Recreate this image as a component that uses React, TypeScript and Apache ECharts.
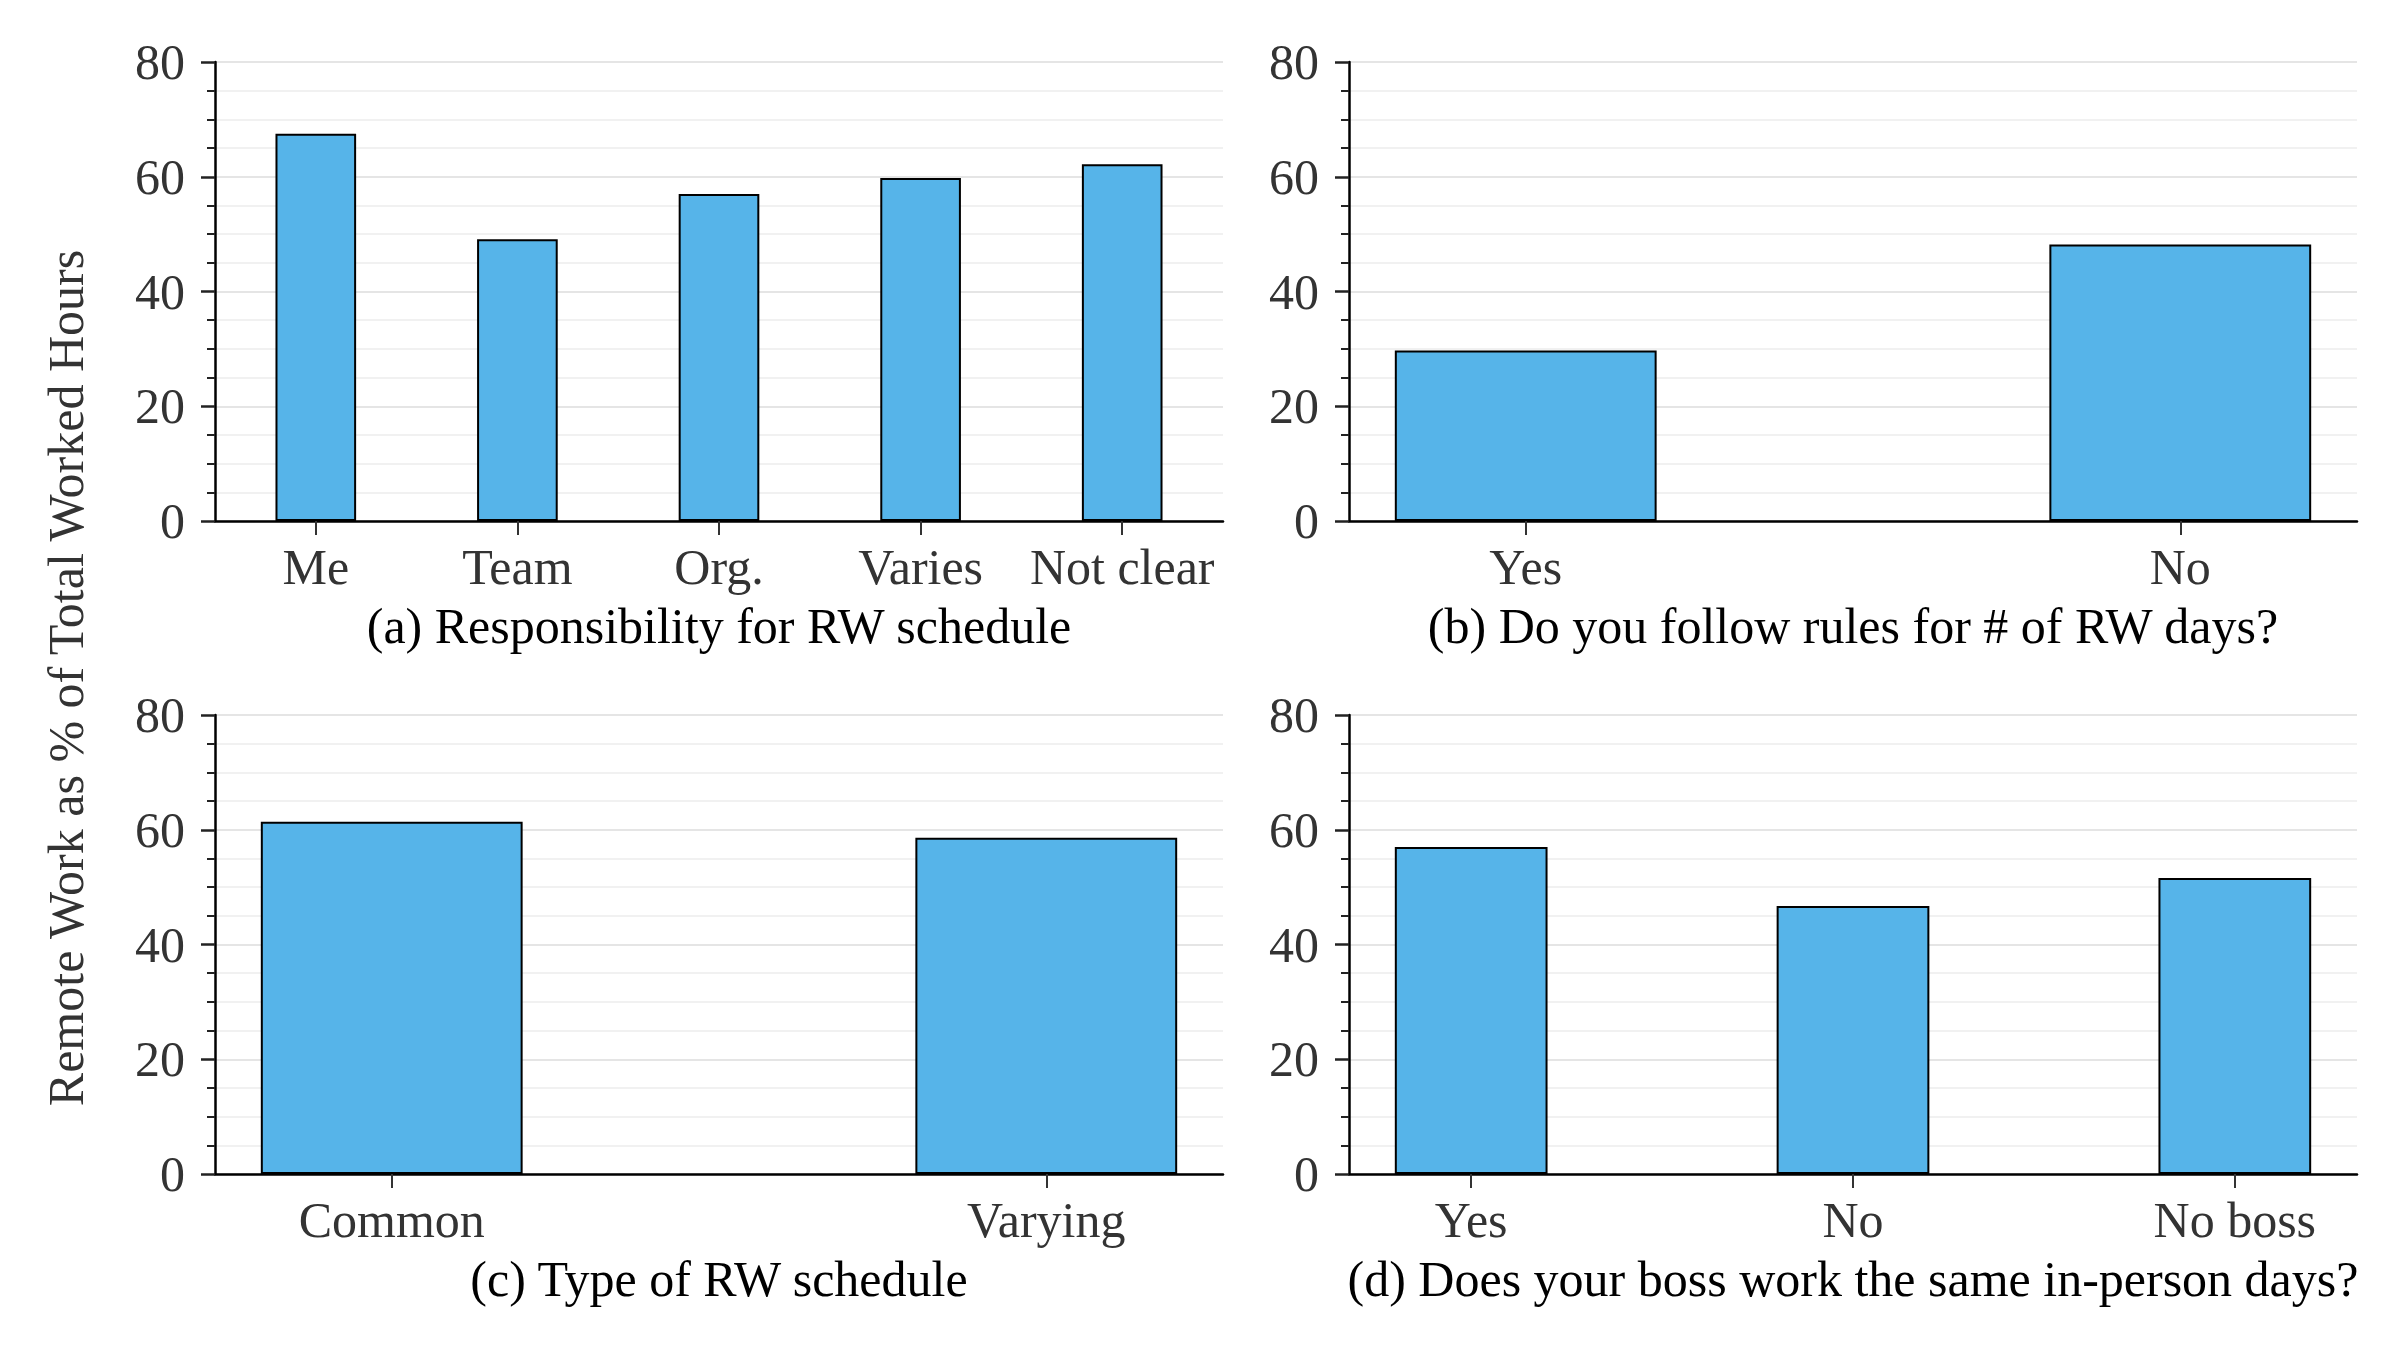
import React, { useEffect, useRef } from "react";
import * as echarts from "echarts";

const catsA = ["Me", "Team", "Org.", "Varies", "Not clear"];
const valsA = [67.5, 49.1, 57.0, 59.8, 62.2];
const catsB = ["Yes", "No"];
const valsB = [29.7, 48.2];
const catsC = ["Common", "Varying"];
const valsC = [61.4, 58.6];
const catsD = ["Yes", "No", "No boss"];
const valsD = [57.0, 46.7, 51.6];
const subtitles = [
  "(a) Responsibility for RW schedule",
  "(b) Do you follow rules for # of RW days?",
  "(c) Type of RW schedule",
  "(d) Does your boss work the same in-person days?",
];
const yTitle = "Remote Work as % of Total Worked Hours";
const yMin = 0;
const yMax = 80;
const yStep = 20;

const FONT = "Liberation Serif";
const FS = 50;

export default function App() {
  const ref = useRef<HTMLDivElement>(null);
  useEffect(() => {
    if (!ref.current) return;
    const chart = echarts.init(ref.current, undefined, { renderer: "svg" });
    const panels = [
      { cats: catsA, vals: valsA, xr: [-0.5, 4.5], left: 215, top: 62 },
      { cats: catsB, vals: valsB, xr: [-0.27, 1.27], left: 1349, top: 62 },
      { cats: catsC, vals: valsC, xr: [-0.27, 1.27], left: 215, top: 715 },
      { cats: catsD, vals: valsD, xr: [-0.32, 2.32], left: 1349, top: 715 },
    ];
    const W = 1008;
    const H = 459;
    const option: any = {
      animation: false,
      backgroundColor: "#ffffff",
      grid: panels.map((p) => ({ left: p.left, top: p.top, width: W, height: H, containLabel: false })),
      xAxis: panels.map((p, i) => {
        const idx = p.cats.map((_, k) => k);
        return {
          type: "value",
          gridIndex: i,
          min: p.xr[0],
          max: p.xr[1],
          axisLine: { show: true, onZero: false, lineStyle: { color: "#000", width: 2.5 } },
          axisTick: { show: true, customValues: idx, length: 14, lineStyle: { color: "#333", width: 2 } },
          axisLabel: {
            show: true,
            customValues: idx,
            formatter: (v: number) => p.cats[Math.round(v)] ?? "",
            fontFamily: FONT,
            fontSize: FS,
            color: "#333",
            margin: 21,
          },
          splitLine: { show: false },
        };
      }),
      yAxis: panels.map((p, i) => ({
        type: "value",
        gridIndex: i,
        min: yMin,
        max: yMax,
        interval: yStep,
        axisLine: { show: true, onZero: false, lineStyle: { color: "#000", width: 2.5 } },
        axisTick: { show: true, length: 14, lineStyle: { color: "#222", width: 2.5 } },
        minorTick: { show: true, splitNumber: 4, length: 8, lineStyle: { color: "#222", width: 2 } },
        splitLine: { show: true, lineStyle: { color: "#dcdcdc", width: 1.5 } },
        minorSplitLine: { show: true, lineStyle: { color: "#ededed", width: 1.5 } },
        axisLabel: { fontFamily: FONT, fontSize: FS, color: "#333", margin: 30 },
      })),
      series: panels.map((p, i) => ({
        type: "bar",
        xAxisIndex: i,
        yAxisIndex: i,
        barWidth: "40%",
        data: p.vals.map((v, k) => [k, v]),
        itemStyle: { color: "#56B4E9", borderColor: "#000", borderWidth: 2 },
      })),
      graphic: [
        ...panels.map((p, i) => ({
          type: "text",
          x: p.left + W / 2,
          y: i < 2 ? 626 : 1279,
          style: {
            text: subtitles[i],
            fontFamily: FONT,
            fontSize: FS,
            fill: "#000",
            align: "center",
            verticalAlign: "middle",
          },
        })),
        {
          type: "text",
          x: 66,
          y: 678,
          rotation: Math.PI / 2,
          style: {
            text: yTitle,
            fontFamily: FONT,
            fontSize: FS,
            fill: "#333",
            align: "center",
            verticalAlign: "middle",
          },
        },
      ],
    };
    chart.setOption(option);
    return () => chart.dispose();
  }, []);
  return (
    <div
      ref={ref}
      style={{ position: "absolute", left: 0, top: 0, width: 2400, height: 1350, background: "#fff" }}
    />
  );
}
